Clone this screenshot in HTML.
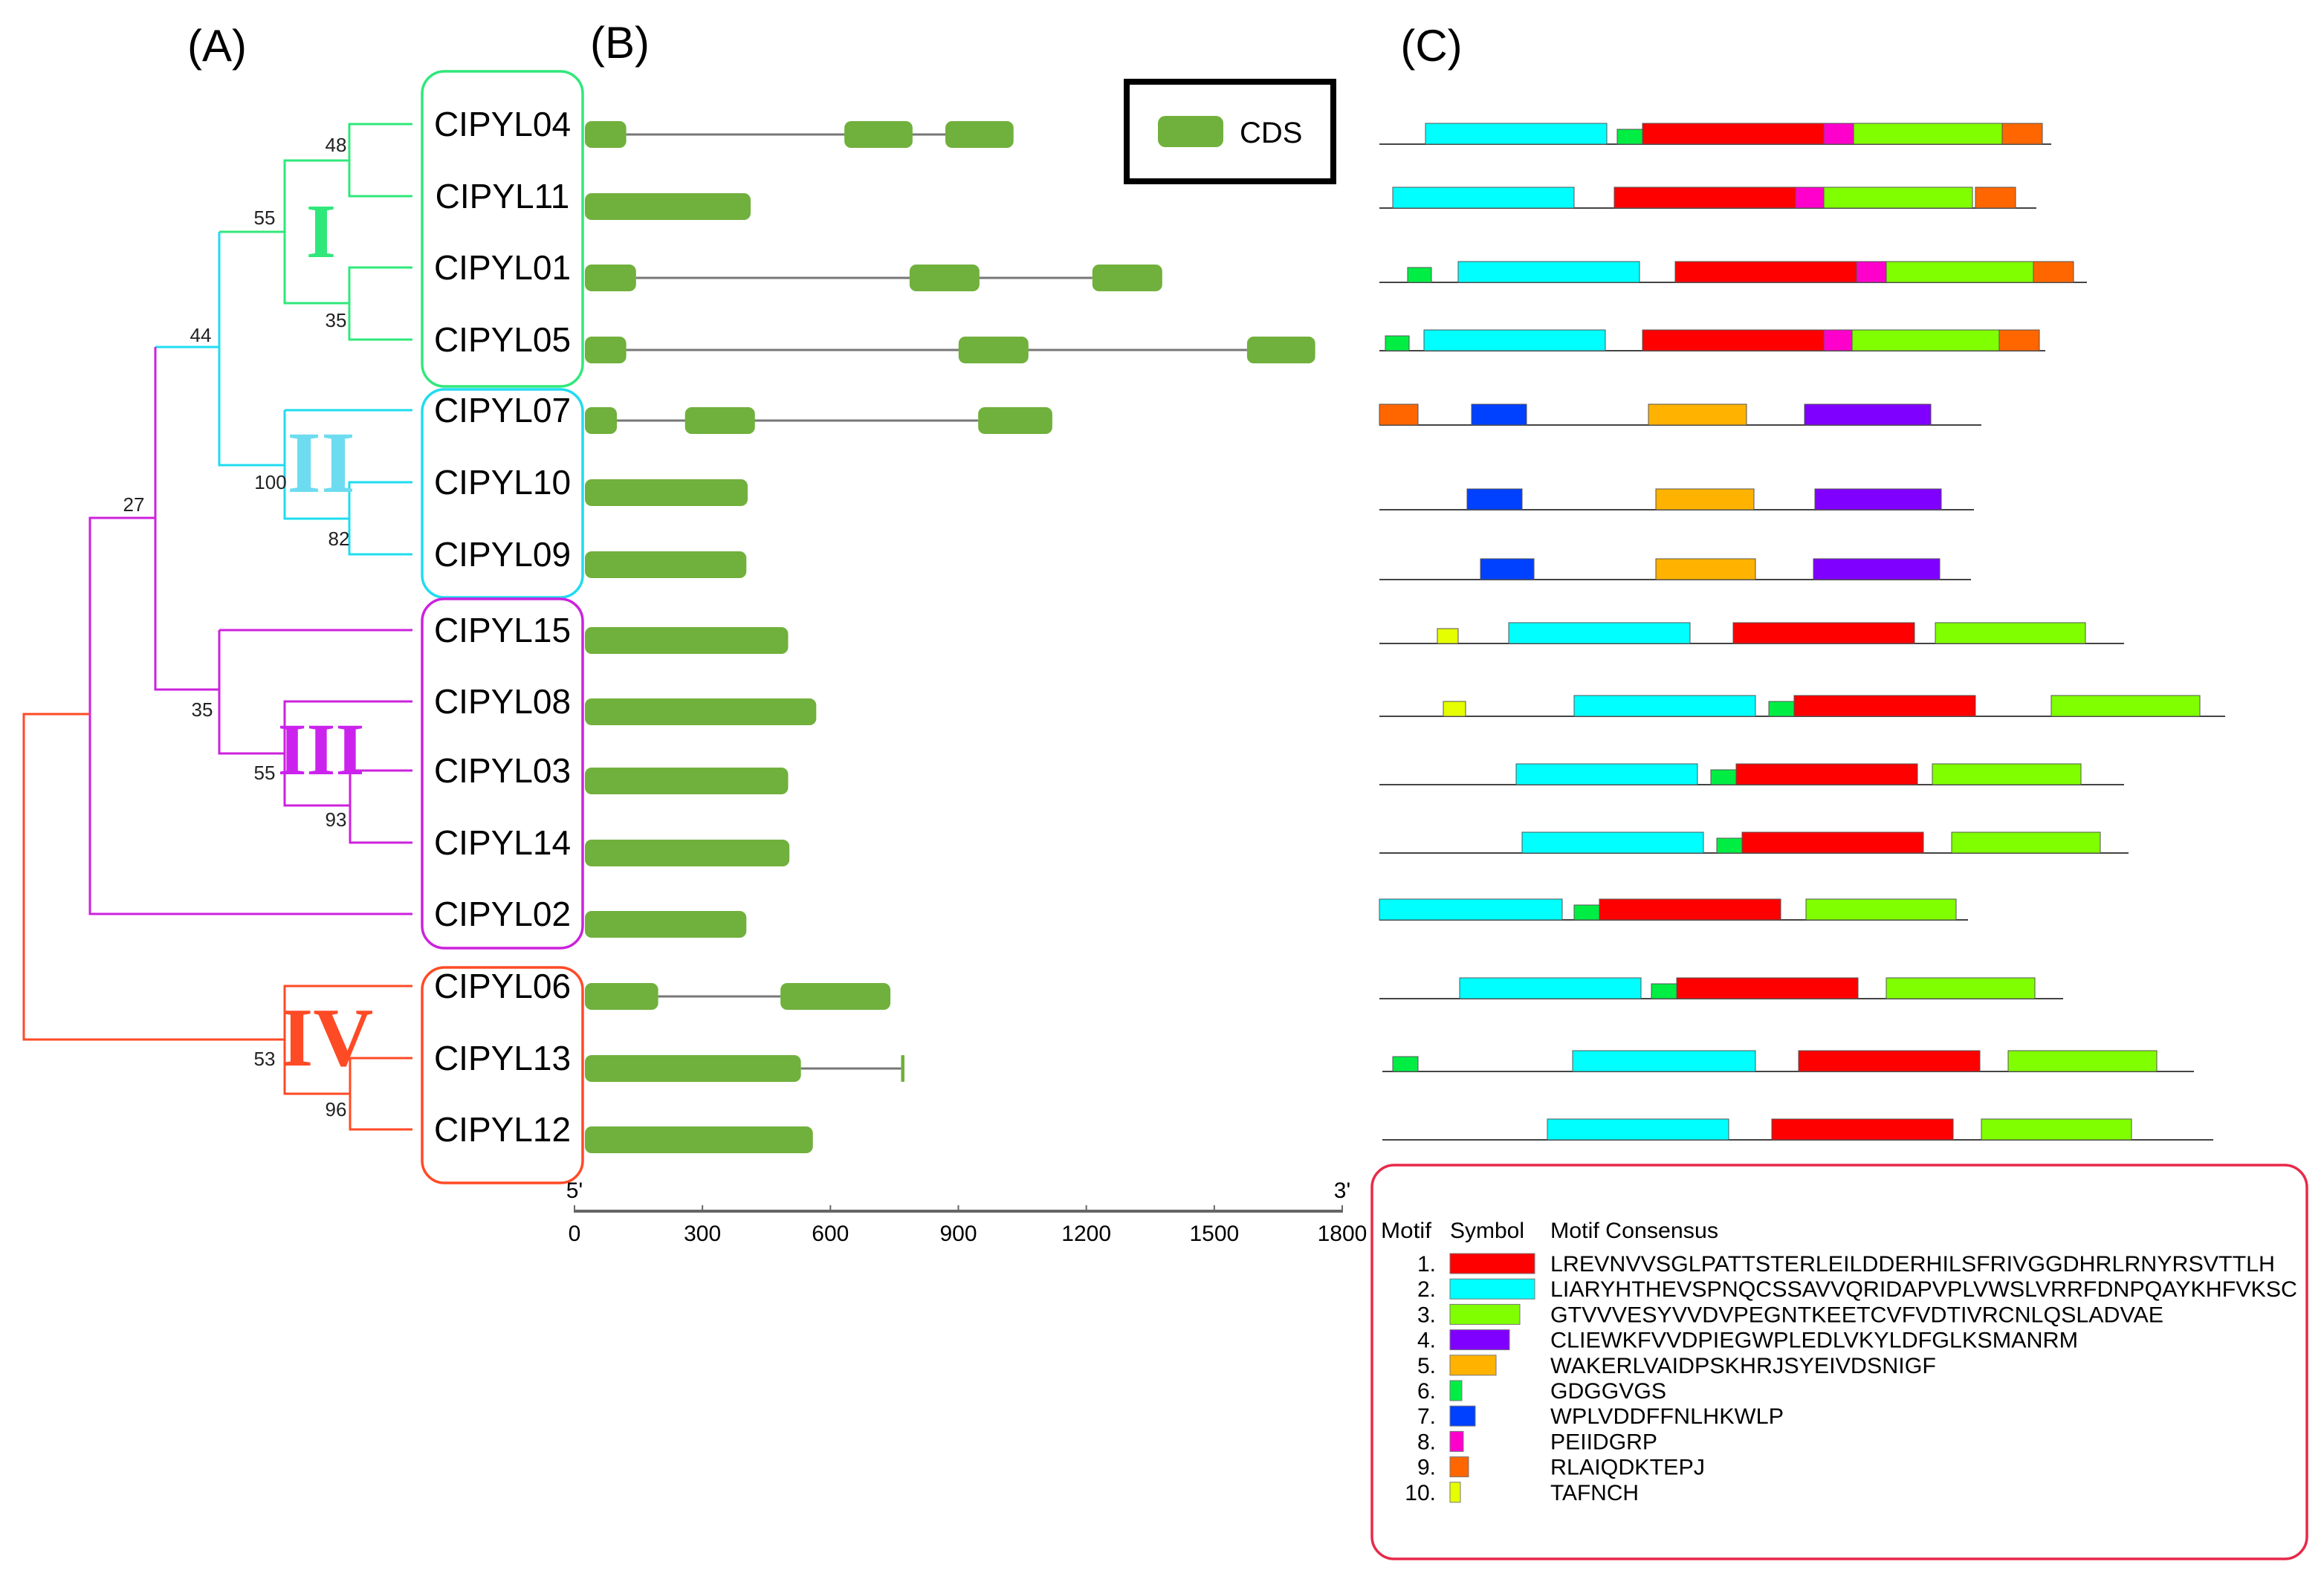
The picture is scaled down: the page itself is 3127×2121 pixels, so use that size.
<!DOCTYPE html>
<html><head><meta charset="utf-8"><style>
html,body{margin:0;padding:0;background:#fff;}
svg{display:block;font-family:"Liberation Sans",sans-serif;}
</style></head><body>
<svg id="fig" width="3127" height="2121" viewBox="0 0 3127 2121" xmlns="http://www.w3.org/2000/svg">
<rect width="3127" height="2121" fill="#fff"/>
<text x="292" y="82" font-size="60" text-anchor="middle">(A)</text>
<text x="834" y="78" font-size="60" text-anchor="middle">(B)</text>
<text x="1926" y="82" font-size="60" text-anchor="middle">(C)</text>

<g id="tree" fill="none" stroke-width="3">
 <path stroke="#2fe87a" d="M555 167H470V264H555M470 216H383V408H470M555 360H470V457H555M383 312H295"/>
 <path stroke="#1fdcf0" d="M295 312V626H383M383 552V698H470M555 552H383M555 649H470V746H555M209 467H295"/>
 <path stroke="#cc22dd" d="M209 467V928H295M295 848V1014H383M555 848H295M555 944H383V1084H471M555 1037H471V1134H555M555 1230H121V697H209M121 961"/>
 <path stroke="#ff4a26" d="M121 961H32V1399H383M555 1327H383V1472H471M555 1424H471V1520H555"/>
</g>
<g font-size="26" fill="#222" text-anchor="middle">
 <text x="452" y="204">48</text><text x="356" y="302">55</text><text x="452" y="440">35</text>
 <text x="270" y="460">44</text><text x="364" y="658">100</text><text x="456" y="734">82</text>
 <text x="180" y="688">27</text><text x="272" y="964">35</text><text x="356" y="1049">55</text>
 <text x="452" y="1112">93</text><text x="356" y="1434">53</text><text x="452" y="1502">96</text>
</g>
<g font-family="Liberation Serif, serif" font-weight="bold" text-anchor="middle">
 <text x="432" y="346" font-size="104" fill="#2fe87a">I</text>
 <text x="432" y="662" font-size="118" fill="#6ddcf0">II</text>
 <text x="432" y="1042" font-size="100" fill="#cc22ee">III</text>
 <text x="440" y="1434" font-size="112" fill="#ff4a26">IV</text>
</g>
<g fill="none" stroke-width="3.5">
 <rect x="568" y="96" width="216" height="424" rx="30" stroke="#2fe87a"/>
 <rect x="568" y="524" width="216" height="280" rx="30" stroke="#1fdcf0"/>
 <rect x="568" y="806" width="216" height="470" rx="30" stroke="#cc22dd"/>
 <rect x="568" y="1302" width="216" height="290" rx="30" stroke="#ff4a26"/>
</g>
<g id="labels" font-size="46" text-anchor="middle"></g>
<g id="genes"></g>
<g id="axis"></g>

<g>
 <rect x="1516" y="110" width="278" height="134" fill="none" stroke="#000" stroke-width="8"/>
 <rect x="1558" y="156" width="88" height="42" rx="10" fill="#70b03c"/>
 <text x="1668" y="192" font-size="40">CDS</text>
</g>
<g id="motifs"></g>

<g id="legend">
 <rect x="1846" y="1568" width="1258" height="530" rx="30" fill="none" stroke="#e8294a" stroke-width="3.5"/>
 <text x="1858" y="1666" font-size="30" textLength="68" lengthAdjust="spacingAndGlyphs">Motif</text>
 <text x="1951" y="1666" font-size="30" textLength="100" lengthAdjust="spacingAndGlyphs">Symbol</text>
 <text x="2086" y="1666" font-size="30" textLength="226" lengthAdjust="spacingAndGlyphs">Motif Consensus</text>
</g>

<script>
const geneNames = ["CIPYL04","CIPYL11","CIPYL01","CIPYL05","CIPYL07","CIPYL10","CIPYL09","CIPYL15","CIPYL08","CIPYL03","CIPYL14","CIPYL02","CIPYL06","CIPYL13","CIPYL12"];
// exon [start,end] in bp
const exons = [
 [[0,97],[609,769],[846,1006]],
 [[0,389]],
 [[0,120],[762,926],[1191,1355]],
 [[0,97],[877,1041],[1554,1714]],
 [[0,75],[235,399],[923,1097]],
 [[0,382]],
 [[0,379]],
 [[0,477]],
 [[0,543]],
 [[0,477]],
 [[0,480]],
 [[0,379]],
 [[0,172],[459,717]],
 [[0,507],[742,750]],
 [[0,535]]
];
const axisTicks = [0,300,600,900,1200,1500,1800];
// motif entries: [motifId, start, length] in motif-units
const motifRows = [
 [[2,31,122],[6,160,17],[1,177,122],[8,299,20],[3,319,100],[9,419,27]],
 [[2,9,122],[1,158,122],[8,280,19],[3,299,100],[9,401,27]],
 [[6,19,16],[2,53,122],[1,199,122],[8,321,20],[3,341,99],[9,440,27]],
 [[6,4,16],[2,30,122],[1,177,122],[8,299,19],[3,318,99],[9,417,27]],
 [[9,0,26],[7,62,37],[5,181,66],[4,286,85]],
 [[7,59,37],[5,186,66],[4,293,85]],
 [[7,68,36],[5,186,67],[4,292,85]],
 [[10,39,14],[2,87,122],[1,238,122],[3,374,101]],
 [[10,43,15],[2,131,122],[6,262,17],[1,279,122],[3,452,100]],
 [[2,92,122],[6,223,17],[1,240,122],[3,372,100]],
 [[2,96,122],[6,227,17],[1,244,122],[3,385,100]],
 [[2,0,123],[6,131,17],[1,148,122],[3,287,101]],
 [[2,54,122],[6,183,17],[1,200,122],[3,341,100]],
 [[6,9,17],[2,130,123],[1,282,122],[3,423,100]],
 [[2,113,122],[1,264,122],[3,405,101]]
];
const proteinLengths = [452,442,476,448,405,400,398,501,569,501,504,396,460,548,561];
const motifIds = [1,2,3,4,5,6,7,8,9,10];
const motifConsensus = ["LREVNVVSGLPATTSTERLEILDDERHILSFRIVGGDHRLRNYRSVTTLH","LIARYHTHEVSPNQCSSAVVQRIDAPVPLVWSLVRRFDNPQAYKHFVKSC","GTVVVESYVVDVPEGNTKEETCVFVDTIVRCNLQSLADVAE","CLIEWKFVVDPIEGWPLEDLVKYLDFGLKSMANRM","WAKERLVAIDPSKHRJSYEIVDSNIGF","GDGGVGS","WPLVDDFFNLHKWLP","PEIIDGRP","RLAIQDKTEPJ","TAFNCH"];
const motifSymbolLen = [114,114,94,80,62,16,34,18,25,14];

// layout
const motifColors = {1:"#ff0000",2:"#00ffff",3:"#80ff00",4:"#8000ff",5:"#ffb300",6:"#00ee44",7:"#0040ff",8:"#ff00cc",9:"#ff6600",10:"#e6ff00"};
const leafY = [167,264,360,457,552,649,746,848,944,1037,1134,1230,1327,1424,1520];
const motifBaseY = [194,280,380,472,572,686,780,866,964,1056,1148,1238,1344,1442,1534];
const NS="http://www.w3.org/2000/svg";
function mk(tag,attrs,parent){const e=document.createElementNS(NS,tag);for(const k in attrs)e.setAttribute(k,attrs[k]);parent.appendChild(e);return e;}
const xGene = bp => 787 + bp*0.5733;
const xAxis = bp => 773 + bp*(1806-773)/1800;
const xMotif = u => 1856 + u*2;

const labelsG=document.getElementById('labels'), genesG=document.getElementById('genes'), motifsG=document.getElementById('motifs');
geneNames.forEach((n,i)=>{
 const t=mk('text',{x:676,y:leafY[i]+16},labelsG);
 
 
 t.textContent=n;
 const g=mk('g',{},genesG);
 
 
 const cy=leafY[i]+14, ex=exons[i];
 if(ex.length>1){const l=mk('line',{x1:xGene(ex[0][1]),x2:xGene(ex[ex.length-1][0]),y1:cy,y2:cy,stroke:'#777','stroke-width':3},g);
  }
 ex.forEach(e=>{const w=Math.max(4,xGene(e[1])-xGene(e[0]));
  const r=mk('rect',{x:xGene(e[0]),y:cy-18,width:w,height:36,rx:w>20?9:1,fill:'#70b03c'},g);
  });
 const mg=mk('g',{},motifsG);
 
 
 const by=motifBaseY[i], st=(i>=13)?2:0;
 const bl=mk('line',{x1:xMotif(st),x2:xMotif(proteinLengths[i]),y1:by,y2:by,stroke:'#444','stroke-width':2},mg);
 
 motifRows[i].forEach(m=>{const h=(m[0]===6||m[0]===10)?20:28;
  const r=mk('rect',{x:xMotif(m[1]),y:by-h,width:m[2]*2,height:h,fill:motifColors[m[0]],stroke:'#555','stroke-width':1},mg);
  });
});

const ax=document.getElementById('axis');
const al=mk('line',{x1:xAxis(0),x2:xAxis(1800),y1:1630,y2:1630,stroke:'#666','stroke-width':4},ax);

axisTicks.forEach(v=>{
 const tk=mk('line',{x1:xAxis(v),x2:xAxis(v),y1:1622,y2:1632,stroke:'#666','stroke-width':2},ax);
 
 const tl=mk('text',{x:xAxis(v),y:1670,'font-size':30,'text-anchor':'middle'},ax);
 
 tl.textContent=v;
});
const t5=mk('text',{x:xAxis(0),y:1612,'font-size':30,'text-anchor':'middle'},ax);
t5.textContent="5'";
const t3=mk('text',{x:xAxis(1800),y:1612,'font-size':30,'text-anchor':'middle'},ax);
t3.textContent="3'";

const lg=document.getElementById('legend');
const consW=[975,1005,825,710,519,156,314,144,208,119];
motifIds.forEach((id,i)=>{
 const cy=1700+i*34.2;
 const nt=mk('text',{x:1932,y:cy+11,'font-size':30,'text-anchor':'end'},lg);
 nt.textContent=id+'.';
 const r=mk('rect',{x:1951,y:cy-13,width:motifSymbolLen[i],height:27,fill:motifColors[id],stroke:'#777','stroke-width':1},lg);
 
 const ct=mk('text',{x:2086,y:cy+11,'font-size':30,textLength:consW[i],lengthAdjust:'spacingAndGlyphs'},lg);
 ct.textContent=motifConsensus[i];
});
</script>
</svg>
</body></html>
